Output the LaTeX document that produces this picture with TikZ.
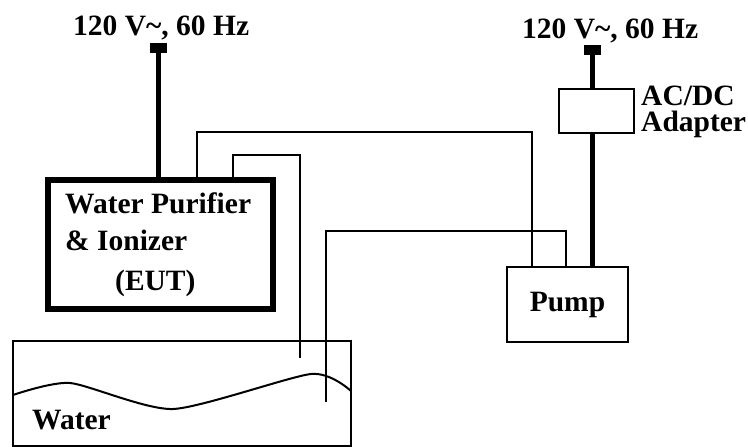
\documentclass[tikz,border=0pt]{standalone}
\usepackage{fontspec}
\setmainfont{Liberation Serif}
\begin{document}
\begin{tikzpicture}[x=1pt,y=-1pt,
  lbl/.style={font=\fontsize{29.5}{26}\selectfont\bfseries, inner sep=0pt},
  thinbox/.style={draw, line width=2pt, inner sep=0pt},
  plugsq/.style={fill=black, inner sep=0pt, minimum width=17pt, minimum height=10pt},
  cord/.style={line width=5pt},
  tube/.style={line width=2pt},
  wave/.style={line width=2pt}]
\useasboundingbox (0,0) rectangle (748,447);
% boxes
\node[draw, line width=6pt, minimum width=225pt, minimum height=129pt, inner sep=0pt] (eut) at (160.5,244.5) {};
\node[thinbox, line width=2.5pt, minimum width=121pt, minimum height=75pt, lbl] (pump) at (567.5,304.5) {Pump};
\node[thinbox, minimum width=75pt, minimum height=44pt] (adapter) at (596.5,111) {};
\node[thinbox, minimum width=338pt, minimum height=105pt] (tank) at (182,393.5) {};
\node[plugsq] (plugL) at (158.5,48) {};
\node[plugsq] (plugR) at (592.5,50) {};
% labels
\node[lbl, anchor=base west] (lblL) at (73,35) {120 V\textasciitilde, 60 Hz};
\node[lbl, anchor=base west] (lblR) at (522,38) {120 V\textasciitilde, 60 Hz};
\node[lbl, anchor=base west] (eut1) at (65,213) {Water Purifier};
\node[lbl, anchor=base west] (eut2) at (65,250) {\& Ionizer};
\node[lbl, anchor=base west] (eut3) at (115,290) {(EUT)};
\node[lbl, anchor=base west, align=left] (ad) at (641,131) {AC/DC\\Adapter};
\node[lbl, anchor=base west] (water) at (32,429) {Water};
% cords
\draw[cord] (plugL.south) -- (plugL.south |- eut.north);
\draw[cord] (plugR.south) -- (plugR.south |- adapter.north);
\draw[cord] (plugR.south |- adapter.south) -- (plugR.south |- pump.north);
% tubes
\coordinate (k1) at (197,132); \coordinate (k2) at (532,132);
\draw[tube] (k1 |- eut.north) -- (k1) -- (k2) -- (k2 |- pump.north);
\coordinate (k3) at (233,155); \coordinate (k4) at (300,155); \coordinate (e2) at (300,358);
\draw[tube] (k3 |- eut.north) -- (k3) -- (k4) -- (e2);
\coordinate (e3) at (326,402); \coordinate (k5) at (326,231); \coordinate (k6) at (566,231);
\draw[tube] (e3) -- (k5) -- (k6) -- (k6 |- pump.north);
% water surface
\draw[wave] plot[smooth, tension=0.4] coordinates {(13,395) (70,383) (173,409) (311,374) (351,391)};
\end{tikzpicture}
\end{document}
